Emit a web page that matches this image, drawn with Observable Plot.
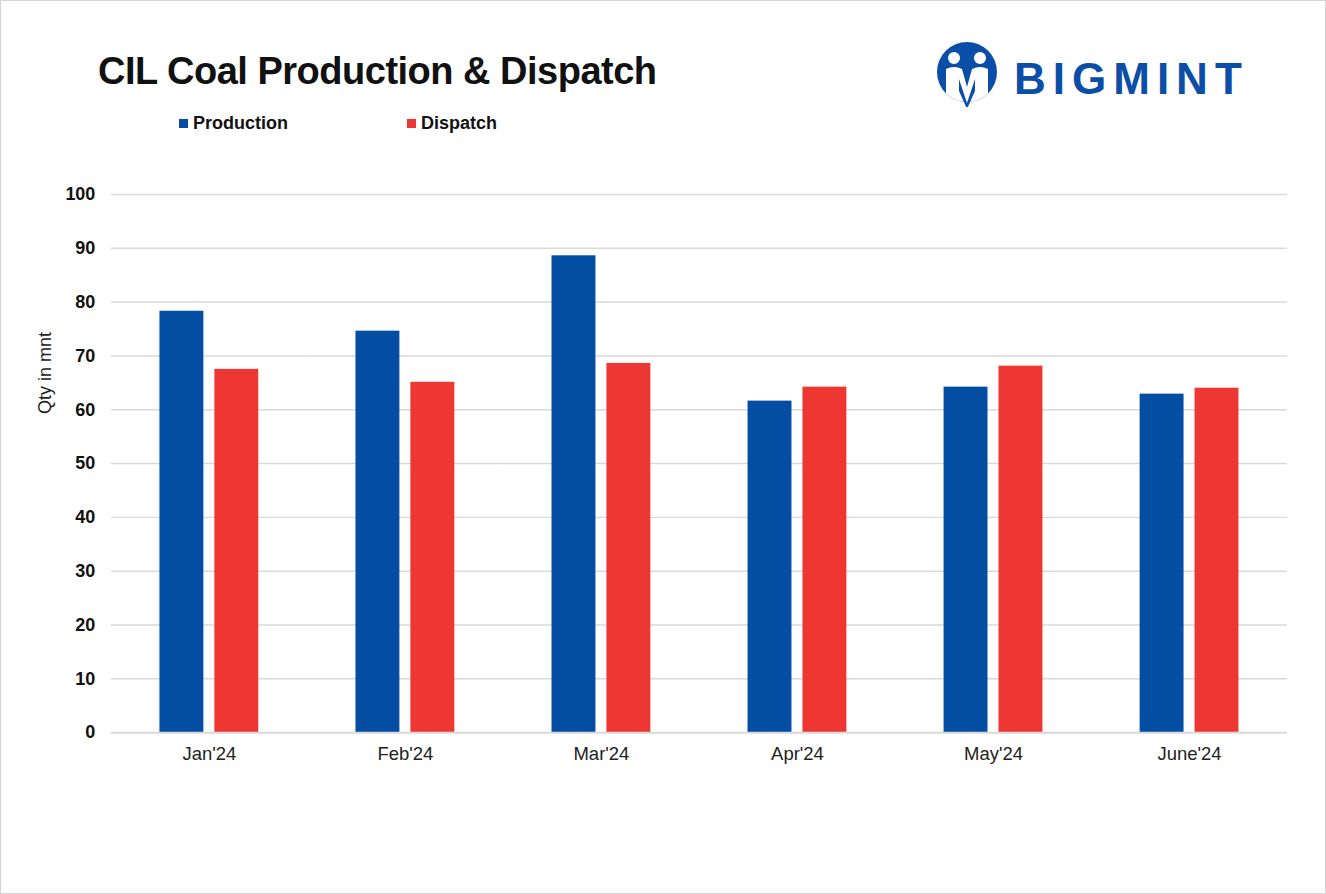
<!DOCTYPE html>
<html><head><meta charset="utf-8">
<script src="https://cdn.jsdelivr.net/npm/d3@7"></script>
<script src="https://cdn.jsdelivr.net/npm/@observablehq/plot@0.6"></script>
<style>
html,body{margin:0;padding:0;background:#fff;}
#wrap{position:relative;width:1326px;height:894px;box-sizing:border-box;border:1px solid #d4d4d4;background:#fff;font-family:"Liberation Sans",Arial,sans-serif;overflow:hidden;}
#title{position:absolute;left:97px;top:51px;font-size:38px;font-weight:bold;letter-spacing:-0.5px;color:#111;line-height:1;white-space:nowrap;}
.leg{position:absolute;top:113px;font-size:18px;font-weight:bold;color:#111;line-height:1;white-space:nowrap;}
.sw{position:absolute;top:118px;width:9px;height:9px;}
#ylab{position:absolute;left:44px;top:372px;transform:translate(-50%,-50%) rotate(-90deg);font-size:18px;color:#222;white-space:nowrap;line-height:1;}
#logo{position:absolute;left:936px;top:38px;}
#brand{position:absolute;left:1013px;top:56px;font-size:44px;font-weight:bold;letter-spacing:7px;color:#0a4ea8;line-height:1;white-space:nowrap;}
#chart{position:absolute;left:0;top:170px;}
</style></head>
<body>
<div id="wrap">
  <div id="title">CIL Coal Production &amp; Dispatch</div>
  <div id="legend"></div>
  <svg id="logo" width="64" height="68" viewBox="0 0 64 68">
    <defs><clipPath id="cc"><circle cx="30" cy="33" r="30"/></clipPath></defs>
    <circle cx="30" cy="33" r="30" fill="#0a4ea8"/>
    <g clip-path="url(#cc)" fill="#fff">
      <circle cx="17" cy="19" r="6"/>
      <circle cx="43" cy="19" r="6"/>
      <path d="M9 30 Q17 26 25 30 L25 70 L9 70 Z"/>
      <path d="M35 30 Q43 26 51 30 L51 70 L35 70 Z"/>
      <path d="M25 30 L30 48 L35 30 L35 70 L25 70 Z"/>
    </g>
    <path d="M22 40 L30 64 L38 40 L38 52 L30 70 L22 52 Z" fill="#0a4ea8"/>
  </svg>
  <div id="brand">BIGMINT</div>
  <div id="ylab">Qty in mnt</div>
  <div id="chart"></div>
</div>
<script>
const months = ["Jan'24","Feb'24","Mar'24","Apr'24","May'24","June'24"];
const production = [78.3, 74.6, 88.6, 61.6, 64.2, 62.9];
const dispatch = [67.5, 65.1, 68.6, 64.2, 68.1, 64.0];
const seriesNames = ["Production","Dispatch"];
const seriesColors = ["#034ea2","#ee3733"];
const yTicks = d3.range(0, 101, 10);

// legend
const legend = document.getElementById("legend");
const legendX = [178, 406];
seriesNames.forEach((s, i) => {
  const sw = document.createElement("div");
  sw.className = "sw"; sw.style.left = legendX[i] + "px"; sw.style.background = seriesColors[i];
  const t = document.createElement("div");
  t.className = "leg"; t.style.left = (legendX[i] + 14) + "px"; t.textContent = s;
  legend.appendChild(sw); legend.appendChild(t);
});

const data = months.flatMap((m, i) => [
  {month: m, series: "Production", value: production[i]},
  {month: m, series: "Dispatch", value: dispatch[i]}
]);

const chart = Plot.plot({
  width: 1326, height: 620,
  marginTop: 23, marginBottom: 58, marginLeft: 110, marginRight: 38,
  style: {fontFamily: '"Liberation Sans", Arial, sans-serif', background: "transparent", overflow: "visible", color: "#222"},
  fx: {domain: months, padding: 0, label: null, round: false},
  x: {domain: seriesNames, paddingInner: 0.2, paddingOuter: 0.885, axis: null, round: false},
  y: {domain: [0, 100], label: null},
  color: {domain: seriesNames, range: seriesColors},
  marks: [
    Plot.ruleY(yTicks.filter(d => d > 0), {stroke: "#d9d9d9", strokeWidth: 1.5}),
    Plot.barY(data, {fx: "month", x: "series", y: "value", fill: "series", inset: 0}),
    Plot.ruleY([0], {stroke: "#d9d9d9", strokeWidth: 2}),
    Plot.axisY({ticks: yTicks, tickSize: 0, tickPadding: 16, fontSize: 18, fontWeight: "bold", label: null, color: "#111"}),
    Plot.axisFx({anchor: "bottom", tickSize: 0, tickPadding: 14, fontSize: 18.5, label: null, color: "#222"})
  ]
});
document.getElementById("chart").appendChild(chart);
</script>
</body></html>
